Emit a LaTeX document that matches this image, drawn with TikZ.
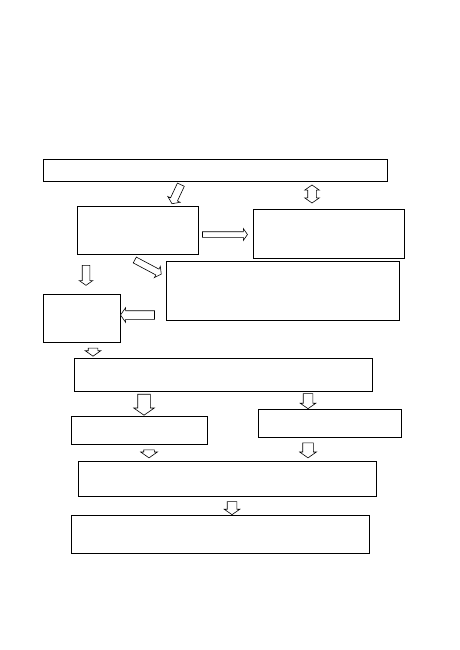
\documentclass[tikz,border=0pt]{standalone}
\usetikzlibrary{shapes,arrows,positioning}

\begin{document}
\begin{tikzpicture}[
                x=1pt, y=-1pt,
                box/.style={rectangle, draw, line width=0.8pt, inner sep=0pt},
                arr/.style={single arrow, draw, fill=white, line width=0.6pt, inner xsep=0pt, inner ysep=2.5pt, single arrow head extend=3pt, single arrow tip angle=110},
                darr/.style={double arrow, draw, fill=white, line width=0.6pt, inner xsep=0pt, inner ysep=3.5pt, double arrow head extend=3pt, double arrow tip angle=110}
            ]
                \useasboundingbox (0,0) rectangle (459,650);

                % Boxes, top to bottom
                \node[box, minimum width=344pt, minimum height=22pt] (top) at (215,170) {};
                \node[box, minimum width=121pt, minimum height=48pt] (b) at (137.5,230) {};
                \node[box, minimum width=151pt, minimum height=49pt] (c) at (328.5,233.5) {};
                \node[box, minimum width=233pt, minimum height=59pt] (d) at (282.5,290.5) {};
                \node[box, minimum width=77pt, minimum height=48pt] (e) at (81.5,318) {};
                \node[box, minimum width=298pt, minimum height=33pt] (f) at (223,374.5) {};
                \node[box, minimum width=136pt, minimum height=28pt] (g) at (139,430) {};
                \node[box, minimum width=143pt, minimum height=28pt] (h) at (329.5,423) {};
                \node[box, minimum width=298pt, minimum height=35pt] (i) at (227,478.5) {};
                \node[box, minimum width=298pt, minimum height=38pt] (j) at (220,534) {};

                % Block arrows between the boxes
                \node[arr, minimum height=21pt, inner ysep=3.5pt, rotate=-115] (topb) at (177,193) {};
                \node[darr, minimum height=18pt, inner ysep=4pt, rotate=90] (topc) at (312,194) {};
                \node[arr, minimum height=45pt] (bc) at (224,234.5) {};
                \node[arr, minimum height=30pt, inner ysep=3pt, rotate=-28] (bd) at (147,266.5) {};
                \node[arr, minimum height=20pt, inner ysep=3.5pt, rotate=-90] (be) at (86,274) {};
                \node[arr, minimum height=34pt, inner ysep=4pt, rotate=180] (de) at (139,315) {};
                \node[arr, minimum height=8pt, inner ysep=4.5pt, rotate=-90] (ef) at (93,350.5) {};
                \node[arr, minimum height=21pt, inner ysep=6pt, single arrow head extend=4pt, rotate=-90] (fg) at (144,402.5) {};
                \node[arr, minimum height=15pt, inner ysep=4.5pt, rotate=-90] (fh) at (308,399.5) {};
                \node[arr, minimum height=8pt, inner ysep=5pt, rotate=-90] (gi) at (149,452) {};
                \node[arr, minimum height=15pt, inner ysep=5pt, rotate=-90] (hi) at (308,448.5) {};
                \node[arr, minimum height=13pt, inner ysep=4.5pt, rotate=-90] (ij) at (232,506.5) {};
            \end{tikzpicture}
\end{document}
